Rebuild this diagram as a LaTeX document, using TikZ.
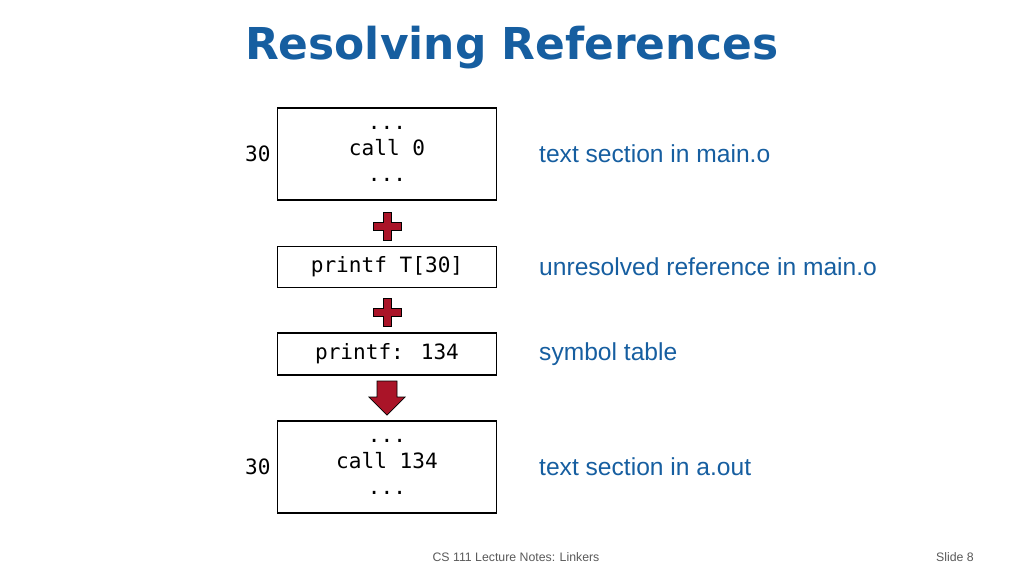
\documentclass[tikz,border=0pt]{standalone}
\usepackage{fontspec}
\setmainfont{Liberation Sans}
\newfontfamily\codefont{DejaVu Sans Mono}
\newfontfamily\titlefont{DejaVu Sans}
\definecolor{slideblue}{RGB}{22,94,160}
\definecolor{plusred}{RGB}{170,20,40}
\begin{document}
\begin{tikzpicture}[x=0.02cm,y=-0.02cm,
                    codeBox/.style={draw,
                                    thick,
                                    minimum width=4.38cm,
                                    align=center,
                                    font=\codefont\fontsize{12}{15}\selectfont},
                    noteTxt/.style={anchor=west,
                                    text=slideblue,
                                    font=\fontsize{14}{16}\selectfont},
                    addrTxt/.style={anchor=east,
                                    font=\codefont\fontsize{12}{14}\selectfont},
                    plusSign/.style={fill=plusred,
                                     draw=black}]
    \useasboundingbox (0,0) rectangle (1024,576);
    \node[font=\titlefont\bfseries\fontsize{25}{30}\selectfont,text=slideblue](title) at (512,48) {Resolving References};
    \node[codeBox,minimum height=1.84cm](main) at (387,154) {...\\call 0\\...};
    \node[codeBox,minimum height=0.82cm](ref)  at (387,267) {printf T[30]};
    \node[codeBox,minimum height=0.84cm](sym)  at (387,354) {printf: 134};
    \node[codeBox,minimum height=1.84cm](out)  at (387,467) {...\\call 134\\...};
    \node[addrTxt](addrA) at (main.west) {30};
    \node[addrTxt](addrB) at (out.west)  {30};
    \node[noteTxt](noteA) at (533,154) {text section in main.o};
    \node[noteTxt](noteB) at (533,267) {unresolved reference in main.o};
    \node[noteTxt](noteC) at (533,354) {symbol table};
    \node[noteTxt](noteD) at (533,467) {text section in a.out};
    % plus signs and result arrow
    \foreach \py in {226,312}
        \draw[plusSign] (373,\py-4) -- (383,\py-4) -- (383,\py-14) -- (391,\py-14)
            -- (391,\py-4) -- (401,\py-4) -- (401,\py+4) -- (391,\py+4) -- (391,\py+14)
            -- (383,\py+14) -- (383,\py+4) -- (373,\py+4) -- cycle;
    \draw[plusSign] (377,381) -- (397,381) -- (397,397) -- (405,397) -- (387,415)
        -- (369,397) -- (377,397) -- cycle;
    \node[text=gray!70!black,font=\fontsize{7}{8}\selectfont](foot) at (516,557) {CS 111 Lecture Notes: Linkers};
    \node[text=gray!70!black,font=\fontsize{7}{8}\selectfont,anchor=east](slide) at (980,557) {Slide 8};
\end{tikzpicture}
\end{document}
